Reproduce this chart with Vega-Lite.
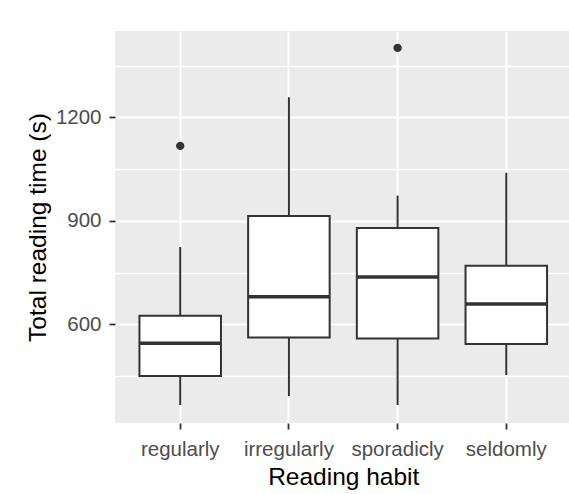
{
  "$schema": "https://vega.github.io/schema/vega-lite/v6.json",
  "autosize": "none",
  "width": 454,
  "height": 392,
  "padding": {"left": 115, "top": 31, "right": 0, "bottom": 71},
  "background": "white",
  "config": {
    "view": {"fill": "#EBEBEB", "stroke": null},
    "font": "Liberation Sans",
    "axis": {"gridColor": "white", "gridWidth": 2, "domain": false}
  },
  "datasets": {
    "stats": [
      {"habit": "regularly", "lower": 366, "q1": 450, "median": 545, "q3": 625, "upper": 824},
      {"habit": "irregularly", "lower": 392, "q1": 562, "median": 680, "q3": 914, "upper": 1258},
      {"habit": "sporadicly", "lower": 366, "q1": 559, "median": 737, "q3": 879, "upper": 973},
      {"habit": "seldomly", "lower": 453, "q1": 543, "median": 659, "q3": 770, "upper": 1039}
    ],
    "outliers": [
      {"habit": "regularly", "time": 1117},
      {"habit": "sporadicly", "time": 1401}
    ]
  },
  "encoding": {
    "x": {
      "field": "habit",
      "type": "nominal",
      "sort": ["regularly", "irregularly", "sporadicly", "seldomly"],
      "scale": {"paddingInner": 0, "paddingOuter": 0.1, "range": [0, 456.5]},
      "axis": {
        "title": "Reading habit",
        "titleFontSize": 24.5,
        "titleFontWeight": "normal",
        "titleColor": "#000000",
        "titlePadding": 6,
        "labelFontSize": 20.5,
        "labelColor": "#4D4D4D",
        "labelAngle": 0,
        "labelPadding": 10,
        "tickColor": "#333333",
        "tickSize": 6,
        "tickWidth": 1.8,
        "grid": true,
        "bandPosition": 0.5
      }
    }
  },
  "layer": [
    {
      "data": {"name": "stats"},
      "mark": {"type": "rule", "color": "#333333", "strokeWidth": 2},
      "encoding": {
        "y": {
          "field": "lower",
          "type": "quantitative",
          "scale": {"domain": [314, 1450], "nice": false, "zero": false},
          "axis": {
            "title": "Total reading time (s)",
            "titleFontSize": 24.5,
            "titleFontWeight": "normal",
            "titleColor": "#000000",
            "titlePadding": 5,
            "labelFontSize": 20.5,
            "labelColor": "#4D4D4D",
            "labelPadding": 8,
            "format": "d",
            "values": [600, 900, 1200],
            "tickColor": "#333333",
            "tickSize": 6,
            "tickWidth": 1.8,
            "grid": true
          }
        },
        "y2": {"field": "q1"}
      }
    },
    {
      "data": {"name": "stats"},
      "mark": {"type": "rule", "color": "#333333", "strokeWidth": 2},
      "encoding": {
        "y": {
          "field": "q3",
          "type": "quantitative",
          "axis": {
            "orient": "right",
            "title": null,
            "labels": false,
            "ticks": false,
            "domain": false,
            "grid": true,
            "gridWidth": 1.6,
            "values": [450, 750, 1050, 1350]
          }
        },
        "y2": {"field": "upper"}
      }
    },
    {
      "data": {"name": "stats"},
      "mark": {"type": "bar", "fill": "white", "stroke": "#333333", "strokeWidth": 2, "width": {"band": 0.75}},
      "encoding": {
        "y": {"field": "q1", "type": "quantitative", "axis": null},
        "y2": {"field": "q3"}
      }
    },
    {
      "data": {"name": "stats"},
      "mark": {"type": "tick", "color": "#333333", "thickness": 3.5, "size": 81.5, "opacity": 1},
      "encoding": {
        "y": {"field": "median", "type": "quantitative", "axis": null}
      }
    },
    {
      "data": {"name": "outliers"},
      "mark": {"type": "point", "filled": true, "color": "#333333", "size": 70, "opacity": 1},
      "encoding": {
        "y": {"field": "time", "type": "quantitative", "axis": null}
      }
    }
  ],
  "resolve": {"axis": {"y": "independent"}}
}
